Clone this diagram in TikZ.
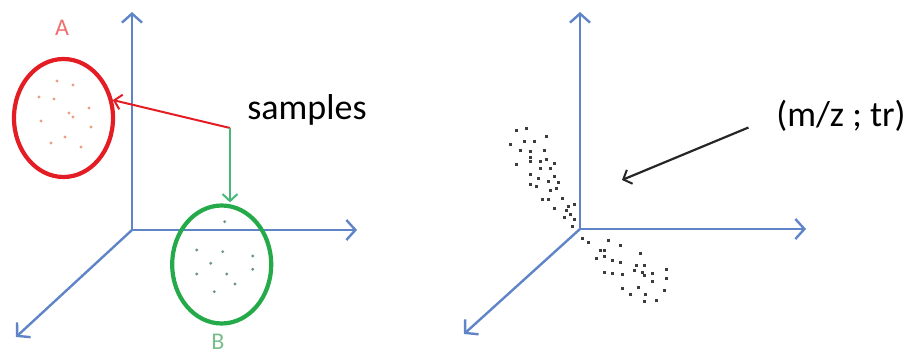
\documentclass[tikz,border=0pt]{standalone}
\usepackage{fontspec}
\setmainfont{Carlito}
\usetikzlibrary{arrows.meta,shapes.geometric}
\definecolor{axisblue}{RGB}{96,132,200}
\definecolor{ringred}{RGB}{228,28,36}
\definecolor{labred}{RGB}{240,110,110}
\definecolor{ringgreen}{RGB}{36,170,72}
\definecolor{arrgreen}{RGB}{70,185,120}
\definecolor{labgreen}{RGB}{120,190,140}
\definecolor{dotA}{RGB}{232,160,130}
\definecolor{dotB}{RGB}{110,150,130}
\definecolor{dotC}{RGB}{60,60,60}
\tikzset{
  axis/.style={draw=axisblue, line width=2.4pt,
    -{Straight Barb[length=9pt,width=20pt,line width=2.4pt]}},
  ring/.style={ellipse, line width=4.2pt, minimum width=99pt, minimum height=118pt, inner sep=0pt},
  pointer/.style={line width=2pt, -{Straight Barb[length=7pt,width=15pt,line width=2pt]}},
  bigtext/.style={font=\fontsize{36}{40}\selectfont, text=black, inner sep=0pt},
  grouplabel/.style={font=\fontsize{24}{28}\selectfont, inner sep=0pt},
}
\begin{document}
\begin{tikzpicture}[x=1pt,y=-1pt]
\useasboundingbox (0,0) rectangle (914,355);

% ---- left panel: three axes ----
\coordinate (o1) at (132,230);
\coordinate (z1) at (132,12);
\coordinate (x1) at (357,230);
\coordinate (y1) at (16,337);
\draw[axis] (o1) -- (z1);
\draw[axis] (o1) -- (x1);
\draw[axis] (o1) -- (y1);

% group A
\node[ring, draw=ringred] (A) at (63.5,118) {};
\node[grouplabel, text=labred] (labA) at (62,28) {A};
\foreach \p in {(57,81),(73,85),(39,97),(54,99),(89,108),(69,113),(73,117),
                (41,121),(91,127),(65,137),(51,143),(81,147)}
  \fill[dotA] \p circle (1.6pt);

% group B
\node[ring, draw=ringgreen] (B) at (221.7,264.5) {};
\node[grouplabel, text=labgreen, anchor=base] (labB) at (218,350) {B};
\foreach \p in {(224.7,221.7),(196.7,250),(222.7,251.7),(252.7,256),(210.7,263.3),
                (252.7,269.3),(196.7,274),(226.7,274),(235,284),(214.3,291.7)}
  \fill[dotB] \p circle (1.6pt);

% samples pointers
\node[bigtext] (samples) at (307,110) {samples};
\coordinate (fork) at (230,128);
\draw[pointer, draw=ringred] (fork) -- (A.20);
\draw[pointer, draw=arrgreen, shorten >=1pt] (fork) -- (fork |- B.north);

% ---- right panel: three axes ----
\coordinate (o2) at (580,229);
\coordinate (z2) at (580,12);
\coordinate (x2) at (806,229);
\coordinate (y2) at (464,334);
\draw[axis] (o2) -- (z2);
\draw[axis] (o2) -- (x2);
\draw[axis] (o2) -- (y2);

% detected features
\foreach \p in {(516.7,130.7),(526,128.7),(510,144.7),(524,141.3),(534,141.3),(546,136.7),
  (520.7,150.7),(530,152),(530,157.3),(544,150.7),(530,161.3),(540,161.3),(546,159.3),
  (554,163.3),(516,164.7),(540,168.7),(550,168.7),(530,174.7),(554,176.7),(538,178.7),
  (548,182),(558,182.7),(530,184.7),(536,186.7),(550,190.7),(556,188.7),(542,199.3),
  (548,199.3),(562,198.7),(554,208.7),(566,210.7),(574,204.7),(568,206.7),(570,214.7),
  (564,218),(574,220),(572,226.7),
  (582,238.7),(588,242.7),(608.7,240.7),(620,246),(640,253.3),(600.7,250.7),(604.7,250.7),
  (596,258.7),(604,256.7),(612,260.7),(620.7,262.7),(636.7,266),(644.7,265.3),(666.7,269.3),
  (604.7,272.7),(612,273.3),(622,274.7),(634,270.7),(642,272.7),(644.7,276),(652.7,274),
  (666.7,278.7),(652.7,282),(638,287.3),(622.7,288.7),(664.7,290.7),(630,294.7),
  (645.3,294.7),(656.7,300.7),(644,301.3)}
  \fill[dotC] \p ++(-1.5,-1.5) rectangle ++(3,3);

\node[bigtext] (mz) at (841,116) {(m/z ; tr)};
\coordinate (target) at (622,180);
\draw[pointer, draw=black!85, line width=2.2pt, shorten <=30pt] (mz.west) -- (target);
\end{tikzpicture}
\end{document}
